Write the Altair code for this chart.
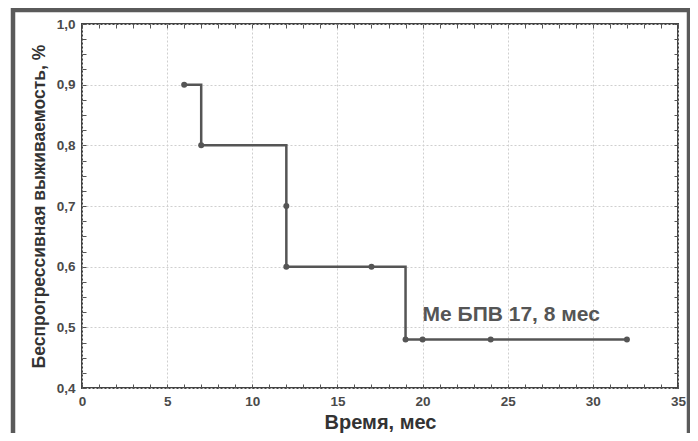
import altair as alt
import pandas as pd

# ---- data ----
step_time = [6, 7, 12, 17, 19, 20, 24, 32]
step_surv = [0.9, 0.8, 0.6, 0.6, 0.48, 0.48, 0.48, 0.48]
mark_time = [6, 7, 12, 12, 17, 19, 20, 24, 32]
mark_surv = [0.9, 0.8, 0.7, 0.6, 0.6, 0.48, 0.48, 0.48, 0.48]
x_major = [0, 5, 10, 15, 20, 25, 30, 35]
y_major = [0.4, 0.5, 0.6, 0.7, 0.8, 0.9, 1.0]
x_minor = list(range(0, 36))
y_minor = [0.4, 0.425, 0.45, 0.475, 0.5, 0.525, 0.55, 0.575, 0.6, 0.625, 0.65,
           0.675, 0.7, 0.725, 0.75, 0.775, 0.8, 0.825, 0.85, 0.875, 0.9, 0.925,
           0.95, 0.975, 1.0]
annot_text = ["Me БПВ 17, 8 мес"]
annot_x = [20]
annot_y = [0.52]
x_title = "Время, мес"
y_title = "Беспрогрессивная выживаемость, %"

W, H = 596, 364
FONT = "Liberation Sans"
DARK = "#555555"

line_df = pd.DataFrame({"t": step_time, "s": step_surv})
pts_df = pd.DataFrame({"t": mark_time, "s": mark_surv})
txt_df = pd.DataFrame({"t": annot_x, "s": annot_y, "label": annot_text})

xscale = alt.Scale(domain=[0, 35], nice=False, zero=False)
yscale = alt.Scale(domain=[0.4, 1.0], nice=False, zero=False)

lab_expr_y = "replace(format(datum.value, '.1f'), '.', ',')"

main_x_axis = alt.Axis(values=x_major, format="d", grid=True, gridColor="#cfcfcf",
                       gridDash=[2, 2], gridWidth=1, ticks=False, domain=False,
                       labelFlush=False, labelOverlap=False,
                       labelPadding=6, labelFont=FONT, labelFontSize=13.5,
                       labelFontWeight="bold", labelColor="#4a4a4a",
                       title=x_title, titleFont=FONT, titleFontSize=20,
                       titleFontWeight="bold", titleColor="#333333", titlePadding=5)
main_y_axis = alt.Axis(values=y_major, labelExpr=lab_expr_y, grid=True,
                       gridColor="#cfcfcf", gridDash=[2, 2], gridWidth=1,
                       ticks=False, domain=False, labelFlush=False,
                       labelOverlap=False, labelPadding=7, labelFont=FONT,
                       labelFontSize=13.5, labelFontWeight="bold",
                       labelColor="#4a4a4a",
                       title=y_title, titleFont=FONT, titleFontSize=17.5,
                       titleFontWeight="bold", titleColor="#333333", titlePadding=8)


def tick_axis(values, orient, offset):
    return alt.Axis(values=values, orient=orient, offset=offset, labels=False,
                    domain=False, grid=False, ticks=True, tickSize=4,
                    tickColor=DARK, tickWidth=1, title=None)


frame = alt.Chart(txt_df).mark_rect(fill=None, stroke="#5a5a5a", strokeWidth=4.5,
                                     clip=False).encode(
    x=alt.value(-69), x2=alt.value(W + 11), y=alt.value(-14), y2=alt.value(H + 70)
)

line = alt.Chart(line_df).mark_line(interpolate="step-after", color=DARK,
                                    strokeWidth=2.5).encode(
    x=alt.X("t:Q", scale=xscale, axis=main_x_axis),
    y=alt.Y("s:Q", scale=yscale, axis=main_y_axis),
)

points = alt.Chart(pts_df).mark_circle(color=DARK, opacity=1, size=36).encode(
    x=alt.X("t:Q", scale=xscale, axis=tick_axis(x_minor, "bottom", -H)),
    y=alt.Y("s:Q", scale=yscale, axis=tick_axis(y_minor, "left", -W)),
)

text = alt.Chart(txt_df).mark_text(align="left", baseline="middle", font=FONT,
                                   fontSize=21, fontWeight="bold",
                                   color=DARK).encode(
    x=alt.X("t:Q", scale=xscale, axis=tick_axis(x_minor, "top", -H)),
    y=alt.Y("s:Q", scale=yscale, axis=tick_axis(y_minor, "right", -W)),
    text="label:N",
)

chart = alt.layer(frame, line, points, text).resolve_axis(
    x="independent", y="independent"
).properties(
    width=W, height=H,
    autosize=alt.AutoSizeParams(type="none"),
    padding={"left": 74, "top": 16, "right": 12, "bottom": 45},
    background="white",
).configure_view(stroke="#444444", strokeWidth=2)

chart.save("out.html", embed_options={"renderer": "svg", "actions": False})
